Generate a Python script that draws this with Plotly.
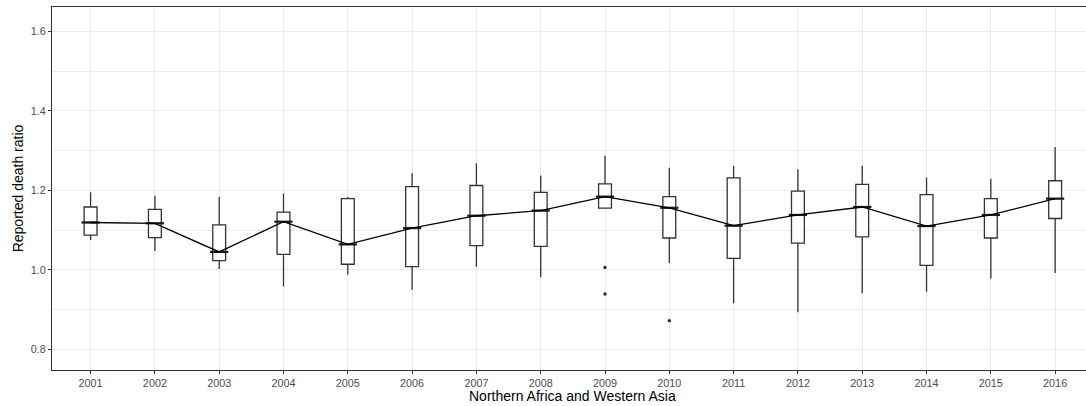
import plotly.graph_objects as go

years = list(range(2001, 2017))
upper = [1.195, 1.186, 1.183, 1.192, 1.184, 1.243, 1.268, 1.237, 1.287, 1.257, 1.262, 1.253, 1.262, 1.232, 1.229, 1.309]
q3 = [1.158, 1.152, 1.113, 1.145, 1.179, 1.209, 1.212, 1.195, 1.216, 1.184, 1.231, 1.198, 1.215, 1.189, 1.179, 1.224]
median = [1.119, 1.117, 1.045, 1.121, 1.064, 1.105, 1.136, 1.149, 1.184, 1.156, 1.111, 1.138, 1.158, 1.110, 1.138, 1.179]
q1 = [1.087, 1.081, 1.023, 1.039, 1.014, 1.008, 1.061, 1.059, 1.155, 1.080, 1.029, 1.067, 1.083, 1.011, 1.080, 1.129]
lower = [1.075, 1.047, 1.002, 0.958, 0.988, 0.950, 1.008, 0.981, 1.155, 1.017, 0.916, 0.893, 0.941, 0.945, 0.978, 0.992]
outlier_years = [2009, 2009, 2010]
outlier_values = [1.006, 0.939, 0.872]
tick_labels = [str(y) for y in years]

fig = go.Figure()
fig.add_trace(go.Box(
    x=years, q1=q1, median=median, q3=q3, lowerfence=lower, upperfence=upper,
    width=0.2, whiskerwidth=0, fillcolor="white",
    line=dict(color="#333333", width=1.3), boxpoints=False, showlegend=False,
    hoverinfo="skip",
))
fig.add_trace(go.Scatter(
    x=years, y=median, mode="markers",
    marker=dict(symbol="line-ew", size=13, line=dict(color="#1a1a1a", width=2.2)),
    showlegend=False, hoverinfo="skip",
))
fig.add_trace(go.Scatter(
    x=years, y=median, mode="lines", line=dict(color="black", width=1.3),
    showlegend=False, hoverinfo="skip",
))
fig.add_trace(go.Scatter(
    x=outlier_years, y=outlier_values, mode="markers",
    marker=dict(color="#333333", size=3.5), showlegend=False, hoverinfo="skip",
))

fig.update_layout(
    width=1086, height=406,
    margin=dict(l=52, r=0, t=7, b=36),
    paper_bgcolor="white", plot_bgcolor="white",
    font=dict(family="Liberation Sans, Arial, sans-serif", color="#4d4d4d", size=11),
    xaxis=dict(
        range=[2000.4, 2016.48], tickmode="array", tickvals=years, ticktext=tick_labels,
        showgrid=True, gridcolor="#ebebeb", gridwidth=1.1,
        showline=True, linecolor="#333333", linewidth=1.2, mirror=True,
        ticks="outside", ticklen=3, tickcolor="#333333", tickwidth=1,
        tickfont=dict(size=10.8, color="#4d4d4d"), zeroline=False,
    ),
    yaxis=dict(
        range=[0.748, 1.661], tickmode="array", tickvals=[0.8, 1.0, 1.2, 1.4, 1.6],
        ticktext=["0.8", "1.0", "1.2", "1.4", "1.6"],
        showgrid=True, gridcolor="#ebebeb", gridwidth=1.1,
        minor=dict(tickvals=[0.9, 1.1, 1.3, 1.5], showgrid=True, gridcolor="#ebebeb", gridwidth=0.6),
        showline=True, linecolor="#333333", linewidth=1.2,
        ticks="outside", ticklen=3, tickcolor="#333333", tickwidth=1,
        tickfont=dict(size=10.8, color="#4d4d4d"), zeroline=False,
        title=dict(text="Reported death ratio", font=dict(size=14, color="black"), standoff=3),
    ),
    annotations=[dict(
        text="Northern Africa and Western Asia", x=2008.5, xref="x", y=-0.0716, yref="paper",
        yanchor="middle", showarrow=False, font=dict(size=14, color="black"),
    )],
)

fig.write_html("out.html", config={"displayModeBar": False},
               post_script="document.body.style.margin='0';")
